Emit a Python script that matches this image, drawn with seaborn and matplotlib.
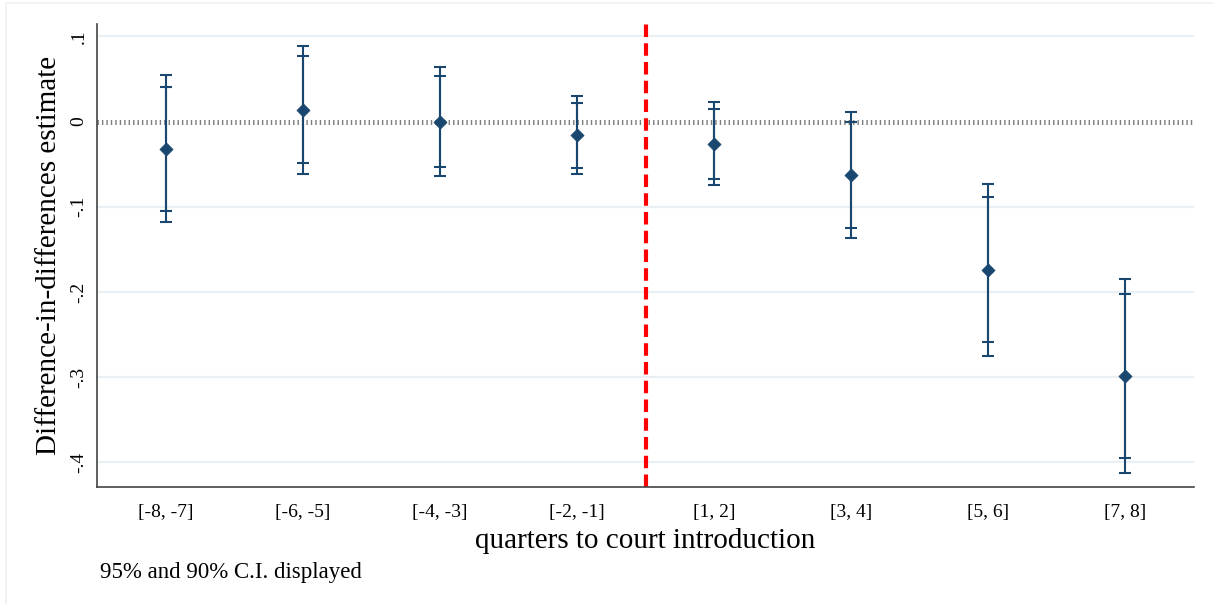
import matplotlib
matplotlib.use("Agg")
import matplotlib.pyplot as plt
from matplotlib.lines import Line2D
import seaborn as sns
import pandas as pd
import numpy as np

categories = ["[-8, -7]", "[-6, -5]", "[-4, -3]", "[-2, -1]", "[1, 2]", "[3, 4]", "[5, 6]", "[7, 8]"]
estimate = [-0.032, 0.014, 0.000, -0.016, -0.026, -0.063, -0.174, -0.299]
ci95_low = [-0.118, -0.061, -0.064, -0.062, -0.075, -0.137, -0.275, -0.413]
ci95_high = [0.055, 0.089, 0.064, 0.030, 0.023, 0.011, -0.073, -0.185]
ci90_low = [-0.105, -0.049, -0.053, -0.054, -0.068, -0.125, -0.259, -0.395]
ci90_high = [0.041, 0.077, 0.053, 0.022, 0.015, -0.001, -0.089, -0.203]
yticks = [0.1, 0.0, -0.1, -0.2, -0.3, -0.4]
ytick_labels = [".1", "0", "-.1", "-.2", "-.3", "-.4"]

df = pd.DataFrame({"period": categories, "est": estimate,
                   "lo95": ci95_low, "hi95": ci95_high,
                   "lo90": ci90_low, "hi90": ci90_high})
df["pos"] = np.arange(len(df))

sns.set_style("white")
plt.rcParams["font.family"] = ["Liberation Serif", "DejaVu Serif"]
plt.rcParams["lines.scale_dashes"] = False
plt.rcParams["text.color"] = "black"
plt.rcParams["axes.labelcolor"] = "black"

W, H = 1213, 604
fig = plt.figure(figsize=(W / 100, H / 100), dpi=100)
ax = fig.add_axes([97 / W, 1 - 487 / H, (1194 - 97) / W, (487 - 24) / H])

navy = "#1a476f"

# grid lines
for yv in yticks:
    if yv != 0:
        ax.axhline(yv, color="#eaeff3", lw=1.6, zorder=0)

# zero reference line (dotted gray)
zl = ax.axhline(0, color="#7d7d7d", lw=3.6, zorder=1)
zl.set_dashes((1.0, 2.2))

# CIs
ax.errorbar(df["pos"], df["est"],
            yerr=[df["est"] - df["lo95"], df["hi95"] - df["est"]],
            fmt="none", ecolor=navy, elinewidth=1.5, capsize=4.3, capthick=1.5, zorder=3)
ax.errorbar(df["pos"], df["est"],
            yerr=[df["est"] - df["lo90"], df["hi90"] - df["est"]],
            fmt="none", ecolor=navy, elinewidth=1.5, capsize=4.3, capthick=1.5, zorder=3)

sns.scatterplot(data=df, x="pos", y="est", marker="D", s=45, color=navy,
                edgecolor=navy, linewidth=0.5, ax=ax, zorder=4, legend=False)

# vertical red dashed line between pre and post periods
rl = ax.axvline(3.5, color="#ff0000", lw=3.0, zorder=2)
rl.set_dashes((9, 4.5))

ax.set_xlim(-0.5, 7.5)
ax.set_ylim(-0.429, 0.1145)
ax.set_xticks(df["pos"])
ax.set_xticklabels(categories, fontsize=14)
ax.set_yticks(yticks)
ax.set_yticklabels(ytick_labels, fontsize=14, rotation=90, va="center")

for s in ["top", "right"]:
    ax.spines[s].set_visible(False)
for s in ["left", "bottom"]:
    ax.spines[s].set_color("#444444")
    ax.spines[s].set_linewidth(1.2)
ax.tick_params(axis="both", direction="out", length=5, width=1.1, color="#444444", labelcolor="black")
ax.tick_params(axis="x", pad=7.5)
ax.tick_params(axis="y", pad=2)

ax.set_xlabel("quarters to court introduction", fontsize=21, labelpad=5)
ax.set_ylabel("Difference-in-differences estimate", fontsize=21, labelpad=6)

fig.text(100 / W, 1 - 578 / H, "95% and 90% C.I. displayed", fontsize=16.5, ha="left", va="baseline")

# faint outer frame (top and left)
fig.add_artist(Line2D([6 / W, 1], [1 - 3 / H, 1 - 3 / H], color="#eef2f5", lw=1.2, transform=fig.transFigure))
fig.add_artist(Line2D([6 / W, 6 / W], [0, 1 - 3 / H], color="#eef2f5", lw=1.2, transform=fig.transFigure))

fig.savefig("out.png", dpi=100)
